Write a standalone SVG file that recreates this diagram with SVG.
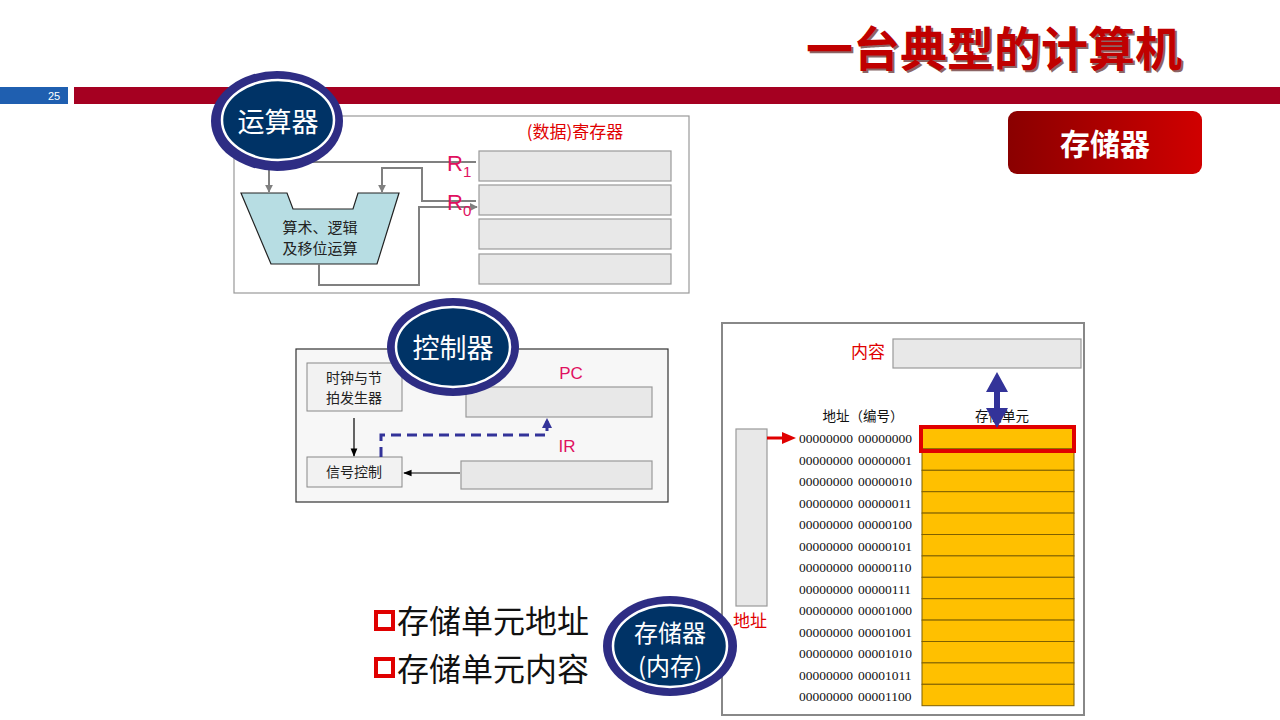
<svg xmlns="http://www.w3.org/2000/svg" width="1280" height="720" viewBox="0 0 1280 720">
<defs>
<style>
.cjk{font-family:"Noto Sans CJK SC","Liberation Sans",sans-serif}
.reg{fill:#E8E8E8;stroke:#999;stroke-width:1.2}
.wire{fill:none;stroke:#808080;stroke-width:2}
.lbl{fill:#E0115F;font-family:"Liberation Sans","Noto Sans CJK SC",sans-serif}
.addr{font-family:"Liberation Serif",serif;font-size:13.5px;fill:#111}
.cell{fill:#FFC000;stroke:#7F6000;stroke-width:1}
.ovo{fill:#2E2D84}
.ovi{fill:#003366;stroke:#fff;stroke-width:2.5}
.ovt{fill:#fff;font-size:27px;text-anchor:middle}
</style>
<marker id="ag" viewBox="0 0 10 10" refX="9" refY="5" markerWidth="4" markerHeight="4" orient="auto"><path d="M0,0L10,5L0,10z" fill="#808080"/></marker>
<marker id="ab" viewBox="0 0 10 10" refX="9" refY="5" markerWidth="7" markerHeight="7" orient="auto"><path d="M0,1L10,5L0,9z" fill="#000"/></marker>
<marker id="au" viewBox="0 0 10 10" refX="9" refY="5" markerWidth="3.5" markerHeight="3.5" orient="auto"><path d="M0,0L10,5L0,10z" fill="#333399"/></marker>
<linearGradient id="rg" x1="0" y1="0" x2="1" y2="0"><stop offset="0" stop-color="#8A0000"/><stop offset="1" stop-color="#D00000"/></linearGradient>
</defs>
<rect width="1280" height="720" fill="#fff"/>

<g id="header">
<rect x="0" y="87" width="68" height="17" fill="#1F5FB0"/>
<text x="54" y="100" font-family="Liberation Sans,sans-serif" font-size="11" fill="#fff" text-anchor="middle">25</text>
<rect x="74" y="87" width="1206" height="17" fill="#A50021"/>
<text x="996" y="68" class="cjk" font-size="47" font-weight="bold" fill="#400000" text-anchor="middle" opacity="0.6">一台典型的计算机</text>
<text x="994" y="66" class="cjk" font-size="47" font-weight="bold" fill="#C00000" text-anchor="middle">一台典型的计算机</text>
</g>

<g id="btn-memory">
<rect x="1008" y="111" width="194" height="63" rx="9" fill="url(#rg)"/>
<text x="1105" y="155" class="cjk" font-size="30" font-weight="bold" fill="#fff" text-anchor="middle">存储器</text>
</g>

<g id="alu-section">
<rect x="234" y="116" width="455" height="177" fill="#fff" stroke="#999" stroke-width="1.2"/>
<text x="575" y="138" class="cjk" font-size="17" fill="#E00000" text-anchor="middle">(数据)寄存器</text>
<rect class="reg" x="479" y="151" width="192" height="30"/>
<rect class="reg" x="479" y="185" width="192" height="30"/>
<rect class="reg" x="479" y="219" width="192" height="30"/>
<rect class="reg" x="479" y="254" width="192" height="30"/>
<polygon points="241,193 287,193 293,209 353,209 358,193 399,193 377,264 271,264" fill="#B7DDE3" stroke="#222" stroke-width="1.2"/>
<text x="320" y="233" class="cjk" font-size="15" fill="#222" text-anchor="middle">算术、逻辑</text>
<text x="320" y="254" class="cjk" font-size="15" fill="#222" text-anchor="middle">及移位运算</text>
</g>

<g id="control-section">
<rect x="296" y="349" width="372" height="153" fill="#F7F7F7" stroke="#333" stroke-width="1.2"/>
<rect x="307" y="363" width="95" height="48" fill="#F2F2F2" stroke="#888" stroke-width="1"/>
<text x="354" y="383" class="cjk" font-size="14" fill="#222" text-anchor="middle">时钟与节</text>
<text x="354" y="403" class="cjk" font-size="14" fill="#222" text-anchor="middle">拍发生器</text>
<rect x="307" y="457" width="95" height="30" fill="#F2F2F2" stroke="#888" stroke-width="1"/>
<text x="354" y="477" class="cjk" font-size="14" fill="#222" text-anchor="middle">信号控制</text>
<text x="571" y="379" class="lbl" font-size="17" text-anchor="middle">PC</text>
<rect class="reg" x="466" y="387" width="186" height="30"/>
<text x="567" y="452" class="lbl" font-size="17" text-anchor="middle">IR</text>
<rect class="reg" x="461" y="461" width="191" height="28"/>
</g>

<g id="memory-section">
<rect x="722" y="323" width="362" height="392" fill="#fff" stroke="#888" stroke-width="2"/>
<text x="868" y="358" class="cjk" font-size="17" fill="#E00000" text-anchor="middle">内容</text>
<rect class="reg" x="893" y="339" width="188" height="29"/>
<text x="863" y="421" class="cjk" font-size="13.5" fill="#111" text-anchor="middle">地址（编号）</text>
<text x="1002" y="421" class="cjk" font-size="13.5" fill="#111" text-anchor="middle">存储单元</text>
<rect class="reg" x="736" y="429" width="31" height="177"/>
<text x="750" y="627" class="cjk" font-size="17" fill="#E00000" text-anchor="middle">地址</text>
<g id="cells">
<rect class="cell" x="922" y="427.5" width="152" height="21.4"/>
<rect class="cell" x="922" y="448.9" width="152" height="21.4"/>
<rect class="cell" x="922" y="470.3" width="152" height="21.4"/>
<rect class="cell" x="922" y="491.7" width="152" height="21.4"/>
<rect class="cell" x="922" y="513.1" width="152" height="21.4"/>
<rect class="cell" x="922" y="534.5" width="152" height="21.4"/>
<rect class="cell" x="922" y="555.9" width="152" height="21.4"/>
<rect class="cell" x="922" y="577.3" width="152" height="21.4"/>
<rect class="cell" x="922" y="598.7" width="152" height="21.4"/>
<rect class="cell" x="922" y="620.1" width="152" height="21.4"/>
<rect class="cell" x="922" y="641.5" width="152" height="21.4"/>
<rect class="cell" x="922" y="662.9" width="152" height="21.4"/>
<rect class="cell" x="922" y="684.3" width="152" height="21.4"/>
<rect x="921" y="427" width="153" height="24" fill="none" stroke="#E00000" stroke-width="4"/>
</g>
<g id="addresses" class="addr">
<text x="799" y="443">00000000<tspan x="858">00000000</tspan></text>
<text x="799" y="464.5">00000000<tspan x="858">00000001</tspan></text>
<text x="799" y="486">00000000<tspan x="858">00000010</tspan></text>
<text x="799" y="507.5">00000000<tspan x="858">00000011</tspan></text>
<text x="799" y="529">00000000<tspan x="858">00000100</tspan></text>
<text x="799" y="550.5">00000000<tspan x="858">00000101</tspan></text>
<text x="799" y="572">00000000<tspan x="858">00000110</tspan></text>
<text x="799" y="593.5">00000000<tspan x="858">00000111</tspan></text>
<text x="799" y="615">00000000<tspan x="858">00001000</tspan></text>
<text x="799" y="636.5">00000000<tspan x="858">00001001</tspan></text>
<text x="799" y="658">00000000<tspan x="858">00001010</tspan></text>
<text x="799" y="679.5">00000000<tspan x="858">00001011</tspan></text>
<text x="799" y="701">00000000<tspan x="858">00001100</tspan></text>
</g>
</g>

<g id="connectors">
<path class="wire" d="M476,162H269V192" marker-end="url(#ag)"/>
<path class="wire" d="M476,201H422V168H382V192" marker-end="url(#ag)"/>
<path class="wire" d="M319,264V285H419V207H477" marker-end="url(#ag)"/>
<line x1="354" y1="418" x2="354" y2="456" stroke="#000" stroke-width="1.2" marker-end="url(#ab)"/>
<line x1="460" y1="473" x2="404" y2="473" stroke="#000" stroke-width="1.2" marker-end="url(#ab)"/>
<path d="M381,457V435H547V419" fill="none" stroke="#333399" stroke-width="3" stroke-dasharray="10,6" marker-end="url(#au)"/>
<line x1="767" y1="438" x2="785" y2="438" stroke="#E00000" stroke-width="3"/>
<polygon points="782,432 796,438 782,444" fill="#E00000"/>
<polygon points="997,372 1008,392 1000,392 1000,408 1008,408 997,428 986,408 994,408 994,392 986,392" fill="#333399"/>
</g>

<g id="reg-labels">
<text x="447" y="171" class="lbl" font-size="22">R<tspan font-size="15" dy="6">1</tspan></text>
<text x="447" y="210" class="lbl" font-size="22">R<tspan font-size="15" dy="6">0</tspan></text>
</g>

<g id="oval-alu">
<ellipse class="ovo" cx="277" cy="121" rx="66" ry="50"/>
<ellipse class="ovi" cx="278" cy="120" rx="56" ry="40"/>
<text x="278" y="132" class="cjk ovt">运算器</text>
</g>

<g id="oval-control">
<ellipse class="ovo" cx="453" cy="347" rx="66" ry="49"/>
<ellipse class="ovi" cx="453" cy="347" rx="57" ry="40"/>
<text x="453" y="358" class="cjk ovt">控制器</text>
</g>

<g id="bullets">
<rect x="376" y="612" width="17" height="17" fill="none" stroke="#E00000" stroke-width="4"/>
<text x="397" y="633" class="cjk" font-size="32" fill="#111">存储单元地址</text>
<rect x="376" y="659" width="17" height="17" fill="none" stroke="#E00000" stroke-width="4"/>
<text x="397" y="681" class="cjk" font-size="32" fill="#111">存储单元内容</text>
</g>

<g id="oval-memory">
<ellipse class="ovo" cx="670" cy="646" rx="67" ry="50"/>
<ellipse class="ovi" cx="670" cy="646" rx="57" ry="41"/>
<text x="670" y="642" class="cjk" font-size="24" fill="#fff" text-anchor="middle">存储器</text>
<text x="670" y="675" class="cjk" font-size="24" fill="#fff" text-anchor="middle">(内存)</text>
</g>
</svg>
